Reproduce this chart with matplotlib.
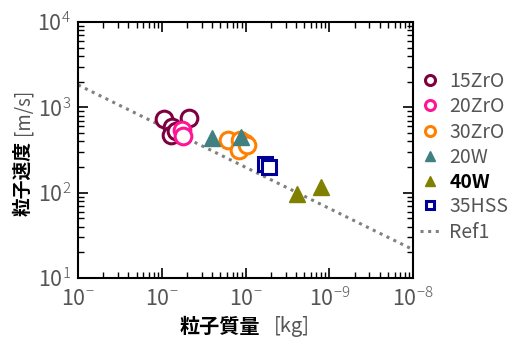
import numpy as np
import matplotlib
matplotlib.use('Agg')
import matplotlib.pyplot as plt
from matplotlib.ticker import LogLocator, FixedLocator, FixedFormatter, NullFormatter

plt.rcParams['font.family'] = ['Noto Sans CJK JP', 'DejaVu Sans']
plt.rcParams['mathtext.fontset'] = 'custom'
plt.rcParams['mathtext.rm'] = 'Noto Sans CJK JP:light'

gray = '#555555'

# data (mass in kg, velocity in m/s)
zr15_m = [1.06e-11, 1.33e-11, 1.29e-11, 1.48e-11, 2.12e-11]
zr15_v = [731, 589, 475, 529, 751]
zr20_m = [1.75e-11, 1.79e-11]
zr20_v = [543, 462]
zr30_m = [6.2e-11, 8.6e-11, 9.9e-11, 8.4e-11, 1.04e-10]
zr30_v = [415, 415, 383, 317, 362]
w20_m = [4.0e-11, 8.8e-11]
w20_v = [438, 450]
w40_m = [4.1e-10, 8.0e-10]
w40_v = [97, 117]
hss_m = [1.71e-10, 1.91e-10]
hss_v = [217, 200]
ref_m = [1e-12, 1e-8]
ref_v = [1830, 21.5]

xtick_vals = [1e-12, 1e-11, 1e-10, 1e-9, 1e-8]
xtick_labels = ['10$^{-}$', '10$^{-}$', '10$^{-}$', '10$^{-9}$', '10$^{-8}$']
ytick_vals = [1e1, 1e2, 1e3, 1e4]
ytick_labels = ['10$^{1}$', '10$^{2}$', '10$^{3}$', '10$^{4}$']

fig = plt.figure(figsize=(5.17, 3.38), dpi=100)
ax = fig.add_axes([0.151, 0.1775, 0.648, 0.7575])

ax.plot(ref_m, ref_v, linestyle=(0, (1, 1.5)), color='#808080', lw=2.2, label='Ref1', zorder=1)

ms = 12
ax.plot(zr15_m, zr15_v, 'o', mfc='white', mec='#7f0040', mew=2.2, ms=ms, label='15ZrO', ls='none')
ax.plot(zr20_m, zr20_v, 'o', mfc='white', mec='#ff1493', mew=2.2, ms=ms, label='20ZrO', ls='none')
ax.plot(zr30_m, zr30_v, 'o', mfc='white', mec='#ff8000', mew=2.2, ms=ms, label='30ZrO', ls='none')
ax.plot(w20_m, w20_v, '^', color='#408080', ms=ms, label='20W', ls='none')
ax.plot(w40_m, w40_v, '^', color='#808000', ms=ms, label='40W', ls='none')
ax.plot(hss_m, hss_v, 's', mfc='white', mec='#000099', mew=2.2, ms=10, label='35HSS', ls='none')

ax.set_xscale('log')
ax.set_yscale('log')
ax.set_xlim(1e-12, 1e-8)
ax.set_ylim(10, 1e4)

ax.xaxis.set_major_locator(FixedLocator(xtick_vals))
ax.xaxis.set_major_formatter(FixedFormatter(xtick_labels))
ax.yaxis.set_major_locator(FixedLocator(ytick_vals))
ax.yaxis.set_major_formatter(FixedFormatter(ytick_labels))
ax.xaxis.set_minor_locator(LogLocator(base=10, subs=np.arange(2, 10), numticks=20))
ax.yaxis.set_minor_locator(LogLocator(base=10, subs=np.arange(2, 10), numticks=20))
ax.xaxis.set_minor_formatter(NullFormatter())
ax.yaxis.set_minor_formatter(NullFormatter())

ax.tick_params(which='both', direction='in', top=True, right=True, colors='black',
               labelcolor=gray, labelsize=15.5)
ax.tick_params(which='major', length=7, width=1.2)
ax.tick_params(which='minor', length=4, width=1)
ax.tick_params(axis='x', pad=7)
ax.tick_params(axis='y', pad=5)
for s in ax.spines.values():
    s.set_linewidth(1.5)

# axis labels: bold Japanese part + gray unit
fig.text(0.348, 0.0355, '粒子質量', fontsize=14.5, fontweight='bold', color='black', ha='left', va='center')
fig.text(0.530, 0.0355, '[kg]', fontsize=14.5, color=gray, ha='left', va='center')
fig.text(0.0445, 0.362, '粒子速度', fontsize=13.5, fontweight='bold', color='black', rotation=90, ha='center', va='bottom')
fig.text(0.0445, 0.6, '[m/s]', fontsize=13.5, color=gray, rotation=90, ha='center', va='bottom')

handles, labels = ax.get_legend_handles_labels()
order = [1, 2, 3, 4, 5, 6, 0]
leg = ax.legend([handles[i] for i in order], [labels[i] for i in order],
                loc='upper left', bbox_to_anchor=(0.975, 0.87), frameon=False,
                fontsize=14, markerscale=0.6, handlelength=1.0, handletextpad=0.5,
                labelspacing=0.23, borderaxespad=0.4)
for t in leg.get_texts():
    t.set_color(gray)
    if t.get_text() == '40W':
        t.set_color('black')
        t.set_fontweight('bold')

fig.savefig('out.png', dpi=100)
